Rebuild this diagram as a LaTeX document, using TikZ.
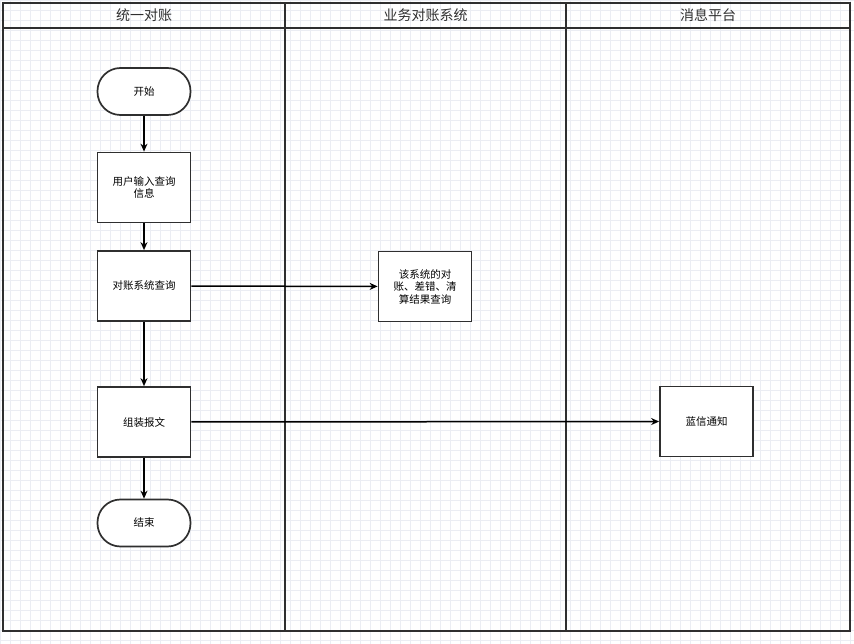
\documentclass[tikz,border=0pt]{standalone}
\usepackage{fontspec}
\newfontfamily\cjk{Noto Sans CJK SC}
\usetikzlibrary{arrows.meta}
\definecolor{gridc}{HTML}{EBEDF3}
\definecolor{linec}{HTML}{2F2F2F}
\begin{document}
\begin{tikzpicture}[x=1pt,y=-1pt,
  proc/.style={draw=linec,line width=1.7pt,fill=white,minimum width=93pt,minimum height=70pt,align=center,font=\cjk\fontsize{10.5}{12.5}\selectfont,inner sep=2pt},
  term/.style={draw=linec,line width=1.7pt,fill=white,rectangle,rounded corners=23pt,minimum width=93pt,minimum height=47pt,font=\cjk\fontsize{10.5}{12.5}\selectfont},
  lane/.style={draw=linec,line width=1.8pt},
  hdr/.style={font=\cjk\fontsize{14}{16}\selectfont,text=linec},
  conn/.style={draw=black,line width=1.5pt,-{Stealth[length=8pt,width=7pt]}}]
\useasboundingbox (0,0) rectangle (854,644);
\fill[white] (0,0) rectangle (854,644);
\draw[gridc,line width=0.5pt,step=10pt] (0,0) grid (854,644);
% frame
\draw[lane] (3,3) rectangle (850,631);
\draw[lane] (3,28) -- (850,28);
\draw[lane] (285,3) -- (285,631);
\draw[lane] (566,3) -- (566,631);
\node[hdr] (h1) at (144,15.5) {统一对账};
\node[hdr] (h2) at (425.5,15.5) {业务对账系统};
\node[hdr] (h3) at (708,15.5) {消息平台};
% nodes
\node[term] (start) at (144,91.5) {开始};
\node[proc] (input) at (144,187.5) {用户输入查询\\信息};
\node[proc] (query) at (144,286) {对账系统查询};
\node[proc] (pack) at (144,422) {组装报文};
\node[term] (end) at (144,523) {结束};
\node[proc] (sys) at (425,286.5) {该系统的对\\账、差错、清\\算结果查询};
\node[proc] (notify) at (706.5,421.5) {蓝信通知};
% connectors
\draw[conn] (start) -- (input);
\draw[conn] (input) -- (query);
\draw[conn] (query) -- (pack);
\draw[conn] (pack) -- (end);
\draw[conn] (query) -- (sys);
\draw[conn] (pack) -- (notify);
\end{tikzpicture}
\end{document}
